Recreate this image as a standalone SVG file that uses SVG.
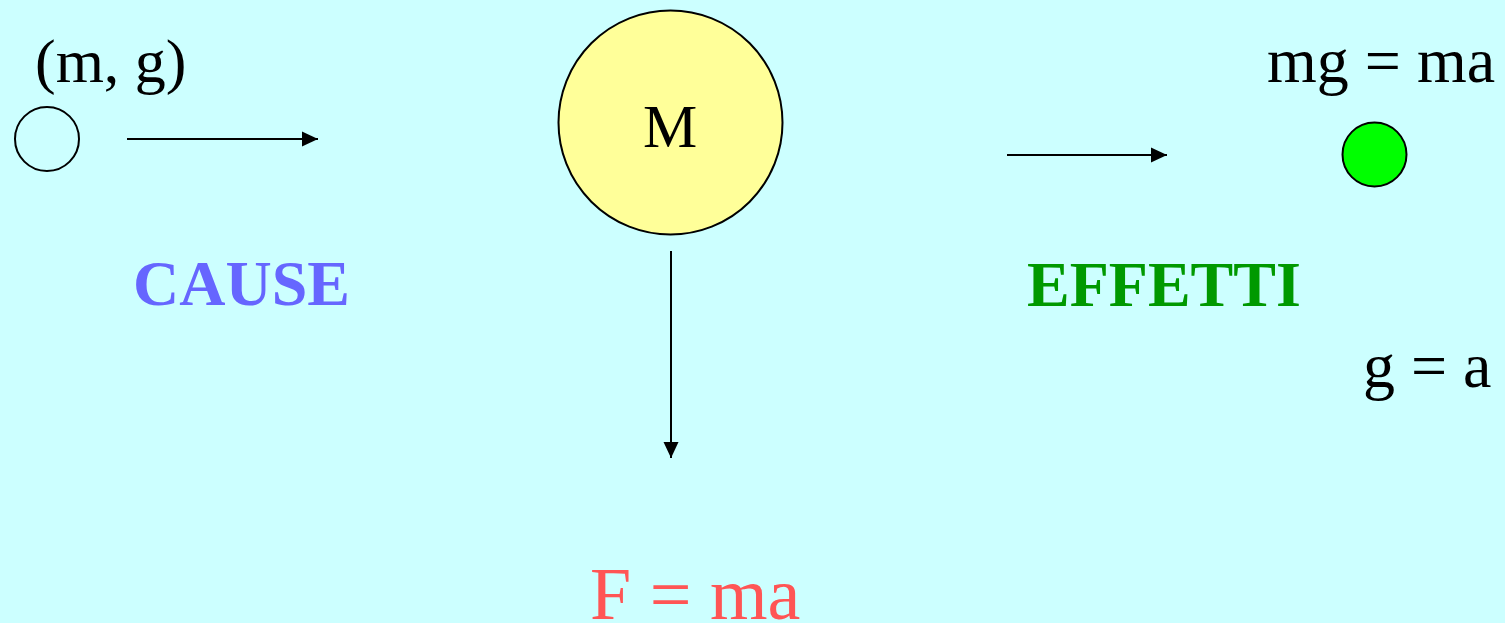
<svg xmlns="http://www.w3.org/2000/svg" width="1505" height="623" viewBox="0 0 1505 623">
  <style>
    .t { font-family: "Liberation Serif", "Times New Roman", serif; font-size: 64px; fill: #000; }
    .b { font-weight: bold; }
    .node { stroke: #000; stroke-width: 2; }
    .conn { stroke: #000; stroke-width: 2; fill: none; marker-end: url(#ah); }
  </style>
  <defs>
    <marker id="ah" markerUnits="userSpaceOnUse" markerWidth="16" markerHeight="16" viewBox="0 0 16 16" refX="16" refY="8" orient="auto">
      <path d="M0,0.5 L16,8 L0,15.5 Z" fill="#000"/>
    </marker>
  </defs>
  <rect x="0" y="0" width="1505" height="623" fill="#CCFFFF"/>

  <g id="connectors">
    <line class="conn" x1="127" y1="139" x2="318" y2="139"/>
    <line class="conn" x1="671" y1="251" x2="671" y2="458"/>
    <line class="conn" x1="1007" y1="155" x2="1167" y2="155"/>
  </g>

  <g id="node-small">
    <circle class="node" cx="47" cy="139" r="32" fill="none"/>
    <text class="t" x="35" y="82" style="font-size:62px">(m, g)</text>
  </g>

  <g id="node-M">
    <circle class="node" cx="670.5" cy="122.5" r="112" fill="#FFFF99"/>
    <text class="t" x="670" y="147" text-anchor="middle" style="font-size:61px">M</text>
  </g>

  <g id="node-green">
    <circle class="node" cx="1374.5" cy="154.5" r="32" fill="#00FF00"/>
    <text class="t" x="1267" y="82">mg = ma</text>
  </g>

  <g id="label-cause">
    <text class="t b" x="133" y="305" style="fill:#6666FF">CAUSE</text>
  </g>

  <g id="label-effetti">
    <text class="t b" x="1027" y="306" style="fill:#009900">EFFETTI</text>
  </g>

  <g id="label-ga">
    <text class="t" x="1363" y="387">g = a</text>
  </g>

  <g id="label-fma">
    <text class="t" x="590" y="619" style="font-size:74px;fill:#FF5555">F = ma</text>
  </g>
</svg>
